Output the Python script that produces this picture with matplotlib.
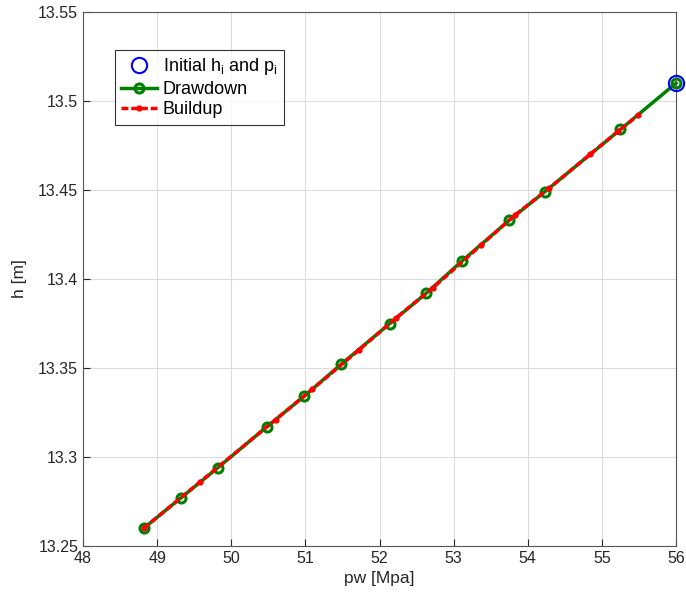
import numpy as np
import matplotlib
matplotlib.use('Agg')
from matplotlib import pyplot as plt

plt.rcParams['font.family'] = ['Liberation Sans', 'DejaVu Sans']

# Initial state
p_init = [56.0]
h_init = [13.51]

# Drawdown
pw_draw = [56.0, 55.25, 54.23, 53.75, 53.11, 52.63, 52.14, 51.48, 50.98, 50.48, 49.82, 49.32, 48.82]
h_draw = [13.510, 13.484, 13.449, 13.433, 13.410, 13.392, 13.375, 13.352, 13.334, 13.317, 13.294, 13.277, 13.260]

# Buildup
pw_build = [48.82, 49.58, 50.60, 51.09, 51.72, 52.22, 52.72, 53.37, 53.83, 54.29, 54.84, 55.22, 55.49]
h_build = [13.260, 13.286, 13.321, 13.338, 13.360, 13.378, 13.395, 13.419, 13.436, 13.451, 13.470, 13.483, 13.492]

xticks = [48, 49, 50, 51, 52, 53, 54, 55, 56]
yticks = [13.25, 13.3, 13.35, 13.4, 13.45, 13.5, 13.55]
ytick_labels = ['13.25', '13.3', '13.35', '13.4', '13.45', '13.5', '13.55']

fig = plt.figure(figsize=(6.86, 5.96), dpi=100)
ax = fig.add_axes([83/686, 50/596, 593/686, 534/596])

ax.plot(p_init, h_init, 'o', ms=11, mfc='none', mec='blue', mew=1.5, clip_on=False,
        label='Initial h$_\\mathregular{i}$ and p$_\\mathregular{i}$', zorder=4)
ax.plot(pw_draw, h_draw, '-o', color='green', lw=2.5, ms=6.5, mfc='none', mew=2.2, clip_on=False,
        label='Drawdown', zorder=2)
ax.plot(pw_build, h_build, '.', color='red', ls=(0, (2, 0.8)), lw=2.5, ms=7, clip_on=False,
        label='Buildup', zorder=3)

ax.set_xlim(48, 56)
ax.set_ylim(13.25, 13.55)
ax.set_xticks(xticks)
ax.set_yticks(yticks)
ax.set_yticklabels(ytick_labels)
ax.tick_params(direction='in', labelsize=11.5, length=5, colors='#262626', top=False, right=False)
ax.grid(True, color='#dcdcdc', lw=0.8)
ax.set_axisbelow(True)
for s in ax.spines.values():
    s.set_color('#555555')
ax.set_xlabel('pw [Mpa]', fontsize=12.5, color='#262626', labelpad=4)
ax.set_ylabel('h [m]', fontsize=12.5, color='#262626', labelpad=8)

leg = ax.legend(loc='upper left', bbox_to_anchor=(0.054, 0.929), fontsize=13, frameon=True,
                fancybox=False, edgecolor='black', handlelength=2.0, handletextpad=0.3,
                borderpad=0.35, labelspacing=0.2, borderaxespad=0)
leg.get_frame().set_linewidth(0.8)

fig.savefig('out.png', dpi=100)
